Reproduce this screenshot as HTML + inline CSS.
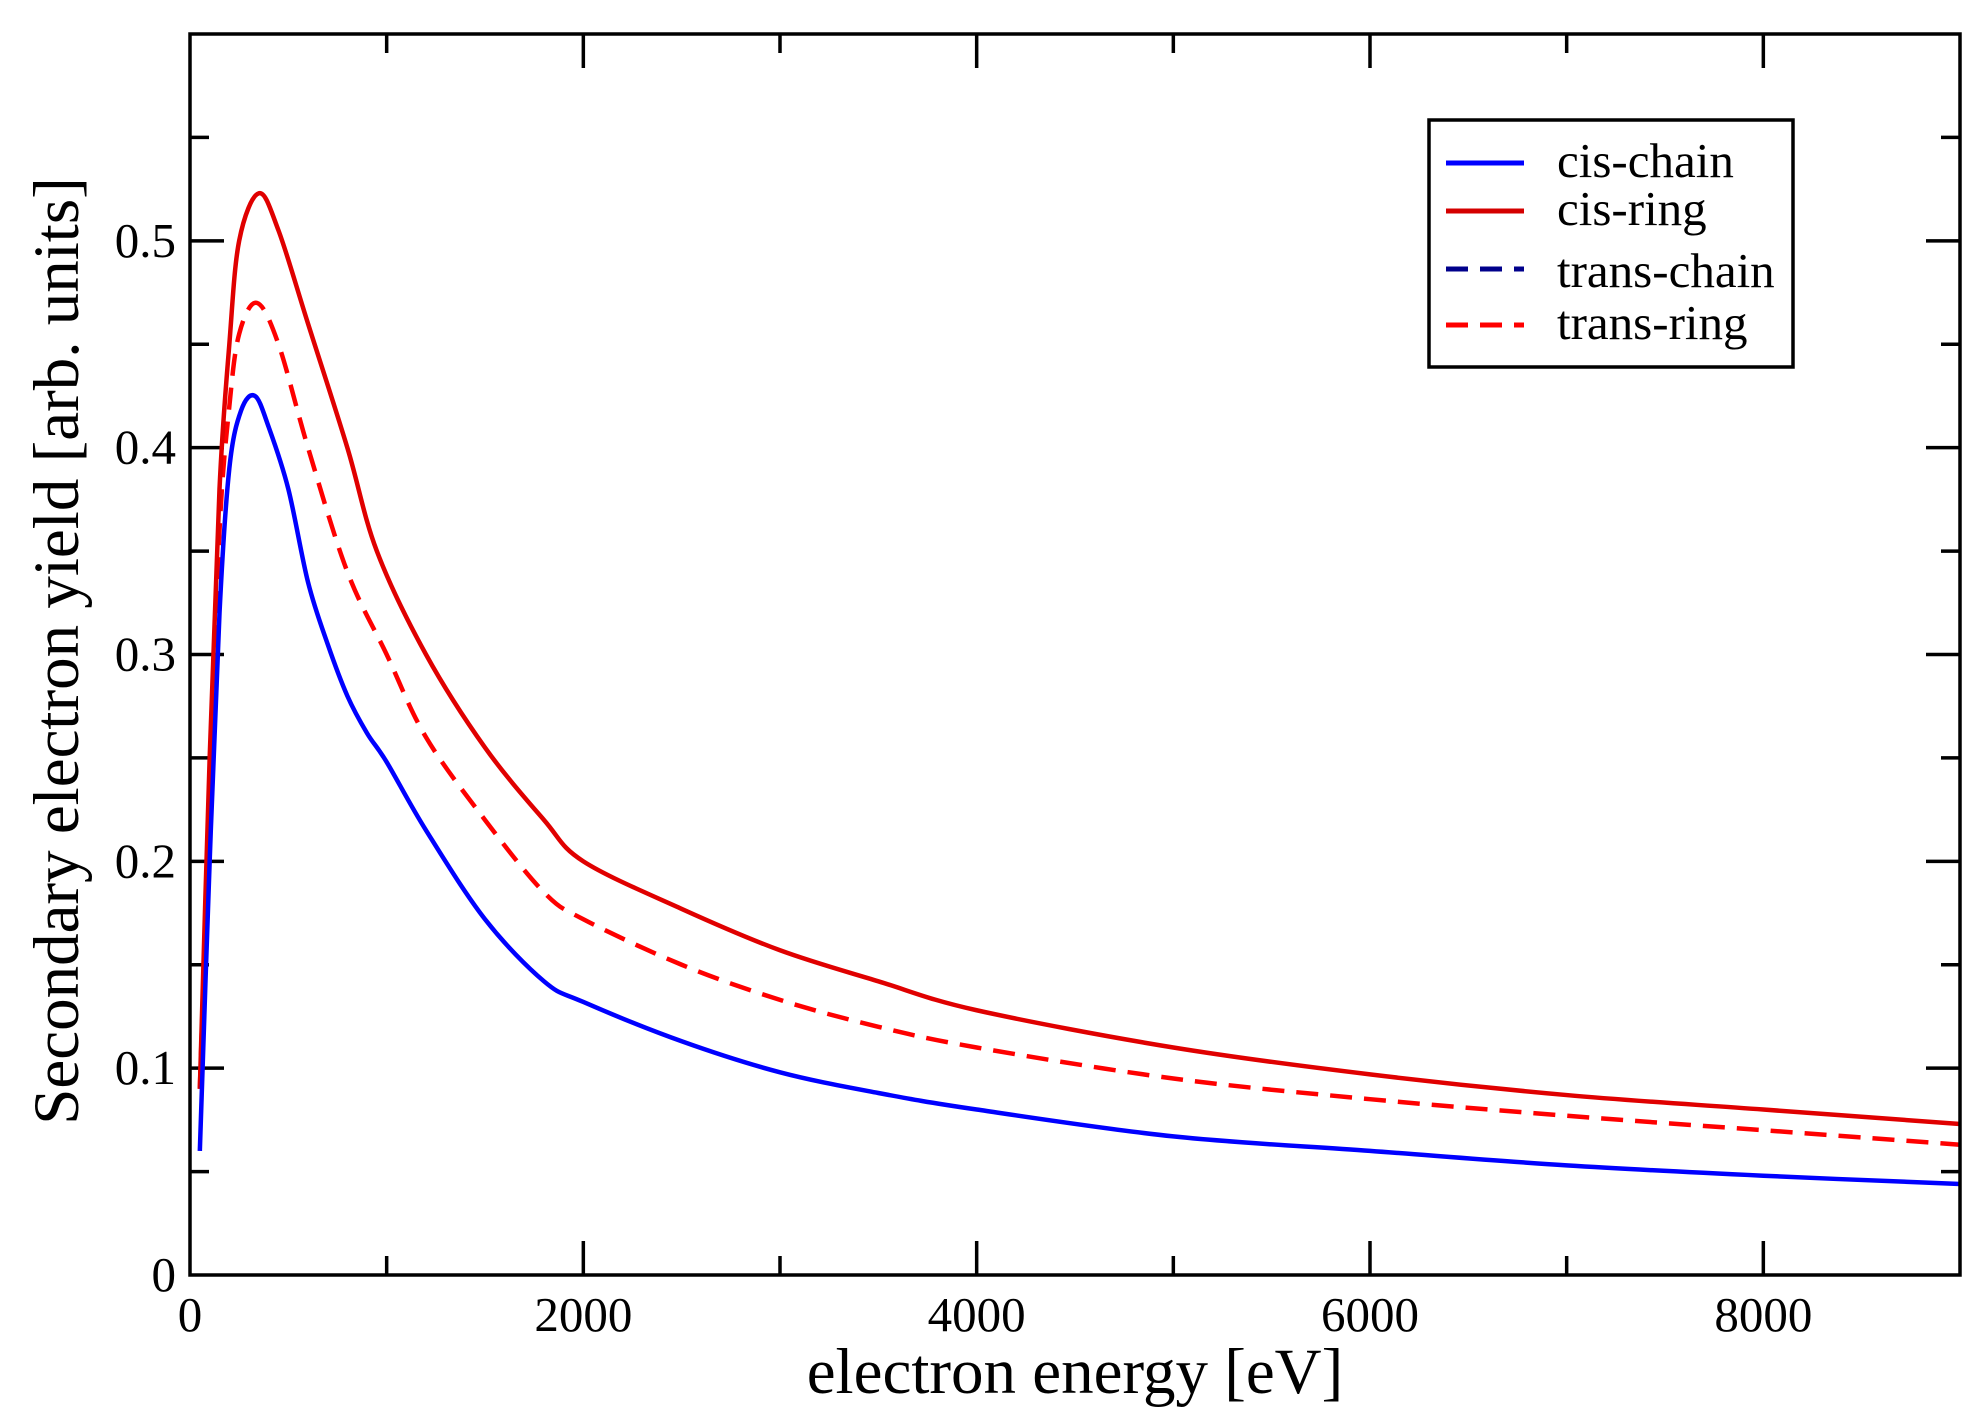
<!DOCTYPE html>
<html><head><meta charset="utf-8"><style>
html,body{margin:0;padding:0;background:#fff;}
svg{display:block;font-family:"Liberation Serif",serif;}
</style></head><body>
<svg id="s" width="1983" height="1416" viewBox="0 0 1983 1416" xmlns="http://www.w3.org/2000/svg">
<g id="ticks" stroke="#000" stroke-width="3.5"></g>
<g id="curves" fill="none" stroke-width="4.5" stroke-linejoin="round"></g>
<rect x="190" y="34" width="1770" height="1241" fill="none" stroke="#000" stroke-width="3.5"/>
<g id="labels" font-size="49" fill="#000"></g>
<text x="1075" y="1393" font-size="65" text-anchor="middle">electron energy [eV]</text>
<text transform="translate(78,651) rotate(-90)" font-size="65" text-anchor="middle">Secondary electron yield [arb. units]</text>
<rect x="1429" y="120" width="364" height="247" fill="#fff" stroke="#000" stroke-width="3.5"/>
<g stroke-width="5">
<line x1="1446" y1="163" x2="1524" y2="163" stroke="#0000ff"/>
<line x1="1446" y1="211" x2="1524" y2="211" stroke="#d40000"/>
<line x1="1446" y1="269" x2="1524" y2="269" stroke="#00008b" stroke-dasharray="22,12"/>
<line x1="1446" y1="325" x2="1524" y2="325" stroke="#ff0000" stroke-dasharray="22,12"/>
</g>
<g font-size="49">
<text x="1557" y="177">cis-chain</text>
<text x="1557" y="225">cis-ring</text>
<text x="1557" y="287">trans-chain</text>
<text x="1557" y="339">trans-ring</text>
</g>
</svg>
<script>
const L=190,R=1960,T=34,B=1275;
const X=v=>L+v*(R-L)/9000, Y=v=>B-v*(B-T)/0.6;
const NS="http://www.w3.org/2000/svg";
function el(p,tag,a,txt){const e=document.createElementNS(NS,tag);for(const k in a)e.setAttribute(k,a[k]);if(txt!==undefined)e.textContent=txt;document.getElementById(p).appendChild(e);}
for(let v=1000;v<9000;v+=1000){const maj=v%2000==0,len=maj?34:19;
el('ticks','line',{x1:X(v),y1:B,x2:X(v),y2:B-len});el('ticks','line',{x1:X(v),y1:T,x2:X(v),y2:T+len});}
for(let i=1;i<12;i++){const v=i*0.05,maj=i%2==0,len=maj?34:19;
el('ticks','line',{x1:L,y1:Y(v),x2:L+len,y2:Y(v)});el('ticks','line',{x1:R,y1:Y(v),x2:R-len,y2:Y(v)});}
for(let v=0;v<=8000;v+=2000)el('labels','text',{x:X(v),y:B+56,'text-anchor':'middle'},String(v));
for(let i=0;i<=5;i++)el('labels','text',{x:L-14,y:Y(i/10)+16,'text-anchor':'end'},i==0?'0':(i/10).toFixed(1));
const blue=[[50,0.06],[100,0.2],[150,0.32],[200,0.39],[260,0.418],[330,0.425],[400,0.41],[500,0.38],[600,0.335],[700,0.305],[800,0.28],[900,0.262],[1000,0.248],[1200,0.215],[1500,0.172],[1800,0.142],[2000,0.132],[2500,0.113],[3000,0.098],[3500,0.088],[4000,0.08],[5000,0.067],[6000,0.06],[7000,0.053],[8000,0.048],[9000,0.044]];
const red=[[50,0.09],[100,0.25],[150,0.38],[200,0.45],[250,0.5],[350,0.523],[450,0.505],[600,0.46],[800,0.4],[950,0.35],[1200,0.3],[1500,0.255],[1800,0.22],[2000,0.2],[2500,0.177],[3000,0.157],[3500,0.142],[4000,0.128],[5000,0.11],[6000,0.097],[7000,0.087],[8000,0.08],[9000,0.073]];
const dred=[[50,0.09],[100,0.23],[150,0.36],[200,0.42],[250,0.455],[340,0.47],[450,0.45],[600,0.4],[800,0.34],[1000,0.3],[1200,0.26],[1500,0.22],[1800,0.185],[2000,0.172],[2500,0.15],[3000,0.133],[3500,0.12],[4000,0.11],[5000,0.095],[6000,0.085],[7000,0.077],[8000,0.07],[9000,0.063]];
function path(pts){const p=pts.map(a=>[X(a[0]),Y(a[1])]);let d=`M${p[0][0]},${p[0][1]}`;
for(let i=0;i<p.length-1;i++){const p0=p[i-1]||p[i],p1=p[i],p2=p[i+1],p3=p[i+2]||p2;
d+=` C${p1[0]+(p2[0]-p0[0])/6},${p1[1]+(p2[1]-p0[1])/6} ${p2[0]-(p3[0]-p1[0])/6},${p2[1]-(p3[1]-p1[1])/6} ${p2[0]},${p2[1]}`;}return d;}
el('curves','path',{d:path(dred),stroke:'#ff0000','stroke-dasharray':'22,12'});
el('curves','path',{d:path(red),stroke:'#e00000'});
el('curves','path',{d:path(blue),stroke:'#0000ff'});
</script>
</body></html>
